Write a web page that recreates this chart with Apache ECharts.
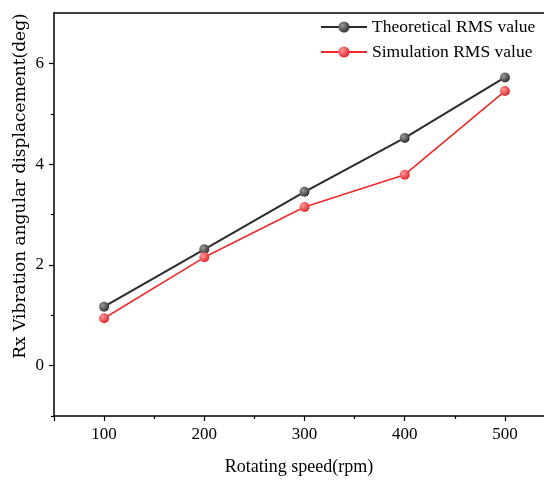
<!DOCTYPE html>
<html><head><meta charset="utf-8">
<script src="https://cdn.jsdelivr.net/npm/echarts@6/dist/echarts.min.js"></script>
<style>html,body{margin:0;padding:0;background:#fff}#c{width:544px;height:481px}</style>
</head><body><div id="c"></div>
<script>
const categories = [100, 200, 300, 400, 500];
const theoretical = [1.17, 2.31, 3.45, 4.52, 5.72];
const simulation = [0.94, 2.15, 3.15, 3.79, 5.45];
const xMajorTicks = [50, 100, 200, 300, 400, 500];
const xLabels = [100, 200, 300, 400, 500];
const xMinorTicks = [150, 250, 350, 450];
const yLabels = [0, 2, 4, 6];
const yMinorTicks = [-1, 1, 3, 5];

const FONT = 'Liberation Serif';
function sphere(base, hi) {
  return { type: 'radial', x: 0.35, y: 0.35, r: 0.7,
    colorStops: [{ offset: 0, color: hi }, { offset: 1, color: base }] };
}
const chart = echarts.init(document.getElementById('c'));
const axisLine = { show: true, onZero: false, lineStyle: { color: '#000', width: 1.5 } };
chart.setOption({
  animation: false,
  grid: { left: 54, right: 0, top: 13, bottom: 64 },
  legend: {
    orient: 'vertical', left: 320, top: 18, padding: 0, itemWidth: 46, itemHeight: 14, itemGap: 7,
    textStyle: { fontFamily: FONT, fontSize: 17.5, color: '#000' },
    data: ['Theoretical RMS value', 'Simulation RMS value']
  },
  xAxis: [{
    type: 'value', min: 50, max: 539, position: 'bottom',
    name: 'Rotating speed(rpm)', nameLocation: 'middle', nameGap: 42,
    nameTextStyle: { fontFamily: FONT, fontSize: 18, color: '#000' },
    axisLine: axisLine, splitLine: { show: false },
    axisTick: { show: true, customValues: xMajorTicks, length: 5, lineStyle: { color: '#000', width: 1.2 } },
    axisLabel: { customValues: xLabels, fontFamily: FONT, fontSize: 17, color: '#000', margin: 10 }
  }, {
    type: 'value', min: 50, max: 539, position: 'bottom',
    axisLine: { show: false, onZero: false }, splitLine: { show: false },
    axisTick: { show: true, customValues: xMinorTicks, length: 3, lineStyle: { color: '#000', width: 1.2 } },
    axisLabel: { show: false }
  }, {
    type: 'value', min: 50, max: 539, position: 'top',
    axisLine: { show: true, onZero: false, lineStyle: { color: '#000', width: 1.5 } },
    splitLine: { show: false }, axisTick: { show: false }, axisLabel: { show: false }
  }],
  yAxis: [{
    type: 'value', min: -1, max: 7, position: 'left',
    axisLine: axisLine, splitLine: { show: false },
    axisTick: { show: true, customValues: yLabels, length: 5, lineStyle: { color: '#000', width: 1.2 } },
    axisLabel: { customValues: yLabels, fontFamily: FONT, fontSize: 17, color: '#000', margin: 10 }
  }, {
    type: 'value', min: -1, max: 7, position: 'left',
    axisLine: { show: false, onZero: false }, splitLine: { show: false },
    axisTick: { show: true, customValues: yMinorTicks, length: 3, lineStyle: { color: '#000', width: 1.2 } },
    axisLabel: { show: false }
  }],
  graphic: [{
    type: 'text', x: 21, y: 186, rotation: Math.PI / 2,
    style: { text: 'Rx Vibration angular displacement(deg)', fontFamily: 'DejaVu Serif', fontSize: 17,
      fill: '#000', align: 'center', verticalAlign: 'middle' }
  }],
  series: [{
    name: 'Theoretical RMS value', type: 'line', xAxisIndex: 0, yAxisIndex: 0,
    data: categories.map((c, i) => [c, theoretical[i]]),
    symbol: 'circle', symbolSize: 10,
    lineStyle: { color: '#2b2b2b', width: 2 },
    itemStyle: { color: sphere('#2e2e2e', '#9a9a9a'), borderWidth: 0 }
  }, {
    name: 'Simulation RMS value', type: 'line', xAxisIndex: 0, yAxisIndex: 0,
    data: categories.map((c, i) => [c, simulation[i]]),
    symbol: 'circle', symbolSize: 10,
    lineStyle: { color: '#ee2a2a', width: 1.6 },
    itemStyle: { color: sphere('#e0222a', '#ff9a9a'), borderWidth: 0 }
  }]
});
</script></body></html>
